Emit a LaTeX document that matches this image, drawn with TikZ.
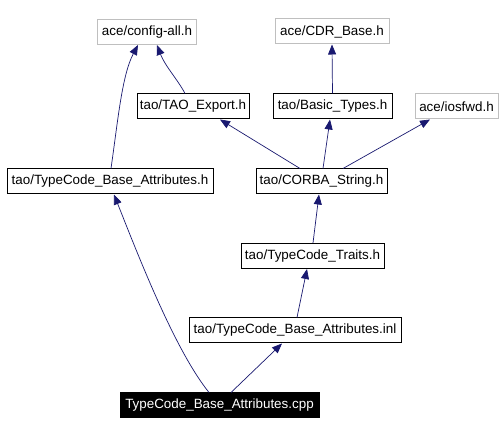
\documentclass[tikz,border=0pt]{standalone}
\usepackage{fontspec}
\setmainfont{Liberation Sans}
\usetikzlibrary{arrows.meta}
\definecolor{edgeblue}{RGB}{25,25,112}
\definecolor{grayborder}{RGB}{191,191,191}
\tikzset{
  file/.style={draw=black, line width=1pt, fill=white, inner sep=0pt, minimum height=25pt, font=\fontsize{13.4}{15}\selectfont, text=black},
  extfile/.style={file, draw=grayborder},
  mainfile/.style={file, fill=black, text=white},
  dep/.style={draw=edgeblue, line width=0.7pt, -{Triangle[length=10pt,width=8pt]}, edgeblue}
}
\begin{document}
\begin{tikzpicture}[x=1pt,y=-1pt]
\useasboundingbox[fill=white] (0,0) rectangle (504,435);
\node[extfile, minimum width=99pt] (cfg) at (147,32) {ace/config-all.h};
\node[extfile, minimum width=114pt] (cdr) at (332,31.5) {ace/CDR\_Base.h};
\node[file, minimum width=112pt] (tao) at (193,106.5) {tao/TAO\_Export.h};
\node[file, minimum width=119pt] (basic) at (332.5,106.5) {tao/Basic\_Types.h};
\node[extfile, minimum width=83pt] (ios) at (456.5,106.5) {ace/iosfwd.h};
\node[file, minimum width=206pt] (tch) at (110,181.5) {tao/TypeCode\_Base\_Attributes.h};
\node[file, minimum width=131pt] (str) at (321.5,181.5) {tao/CORBA\_String.h};
\node[file, minimum width=143pt] (traits) at (312.5,256) {tao/TypeCode\_Traits.h};
\node[file, minimum width=212pt] (inl) at (295,330.5) {tao/TypeCode\_Base\_Attributes.inl};
\node[mainfile, minimum width=199pt] (cpp) at (219.5,405.5) {TypeCode\_Base\_Attributes.cpp};

\draw[dep] ([xshift=1pt]tch.north) .. controls (118,120) and (122,75) .. ([xshift=-9pt]cfg.south);
\draw[dep] ([xshift=-8pt]tao.north) .. controls (178,80) and (165,66) .. ([xshift=10pt]cfg.south);
\draw[dep] (basic.north) -- (cdr.south);
\draw[dep] ([xshift=-21.5pt]str.north) -- ([xshift=27pt]tao.south);
\draw[dep] ([xshift=1.5pt]str.north) -- ([xshift=-2.5pt]basic.south);
\draw[dep] ([xshift=21.5pt]str.north) -- ([xshift=-26.5pt]ios.south);
\draw[dep] ([xshift=0.5pt]traits.north) -- ([xshift=-2.5pt]str.south);
\draw[dep] ([xshift=2pt]inl.north) -- ([xshift=-5.5pt]traits.south);
\draw[dep] ([xshift=11.5pt]cpp.north) -- ([xshift=-13pt]inl.south);
\draw[dep] ([xshift=-10.5pt]cpp.north) .. controls (175,350) and (140,260) .. ([xshift=4pt]tch.south);
\end{tikzpicture}
\end{document}
